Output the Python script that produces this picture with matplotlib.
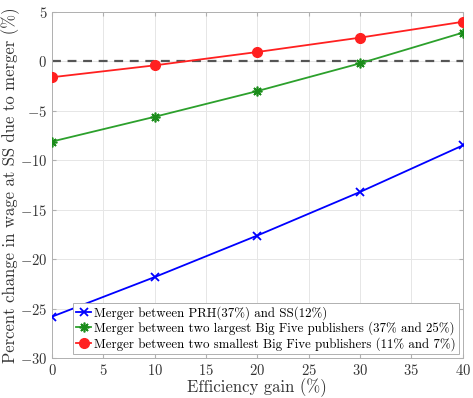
import matplotlib
matplotlib.use("Agg")
import matplotlib.pyplot as plt

plt.rcParams['font.family'] = ['cmr10', 'DejaVu Serif']
plt.rcParams['axes.unicode_minus'] = False
plt.rcParams['axes.formatter.use_mathtext'] = True

# data
gain = [0, 10, 20, 30, 40]
prh_ss = [-25.8, -21.8, -17.6, -13.2, -8.5]
two_largest = [-8.1, -5.6, -3.0, -0.2, 2.9]
two_smallest = [-1.6, -0.4, 0.95, 2.4, 4.0]

labels = ["Merger between PRH(37%) and SS(12%)",
          "Merger between two largest Big Five publishers (37% and 25%)",
          "Merger between two smallest Big Five publishers (11% and 7%)"]

fig = plt.figure(figsize=(4.73, 3.98), dpi=100)
ax = fig.add_axes([0.11, 0.10, 0.868, 0.87])

ax.axhline(0, color='#555555', linestyle=(0, (4, 3)), linewidth=1.6, zorder=1)

ax.plot(gain, prh_ss, color='#0000ff', marker='x', markersize=6, mew=1.3,
        linewidth=1.3, label=labels[0], zorder=3)
ax.plot(gain, two_largest, color='#2ca02c', marker=(8, 2, 0), markersize=7,
        mew=1.2, mec='#1a8c1a', linewidth=1.3, label=labels[1], zorder=3)
ax.plot(gain, two_smallest, color='#ff2020', marker='o', markersize=7,
        linewidth=1.3, label=labels[2], zorder=3)

ax.set_xlim(0, 40)
ax.set_ylim(-30, 5)
ax.set_xticks(range(0, 41, 5))
ax.set_yticks(range(-30, 6, 5))
ax.grid(True, color='#e6e6e6', linewidth=0.7)
ax.set_axisbelow(True)
for s in ax.spines.values():
    s.set_color('#b0b0b0')
    s.set_linewidth(0.7)
ax.tick_params(direction='in', length=3, colors='#b0b0b0', labelcolor='#333333',
               labelsize=10.5, top=True, right=True)

ax.set_xlabel("Efficiency gain (%)", fontsize=12, color='#333333', labelpad=0)
ax.set_ylabel("Percent change in wage at SS due to merger (%)", fontsize=12,
              color='#333333', labelpad=0)

leg = ax.legend(loc='lower right', fontsize=9.3, handlelength=1.2,
                handletextpad=0.2, borderpad=0.25, labelspacing=0.15,
                borderaxespad=0.3, fancybox=False, framealpha=1)
leg.get_frame().set_edgecolor('#b0b0b0')
leg.get_frame().set_linewidth(0.7)

plt.savefig("out.png", dpi=100)
plt.close()
